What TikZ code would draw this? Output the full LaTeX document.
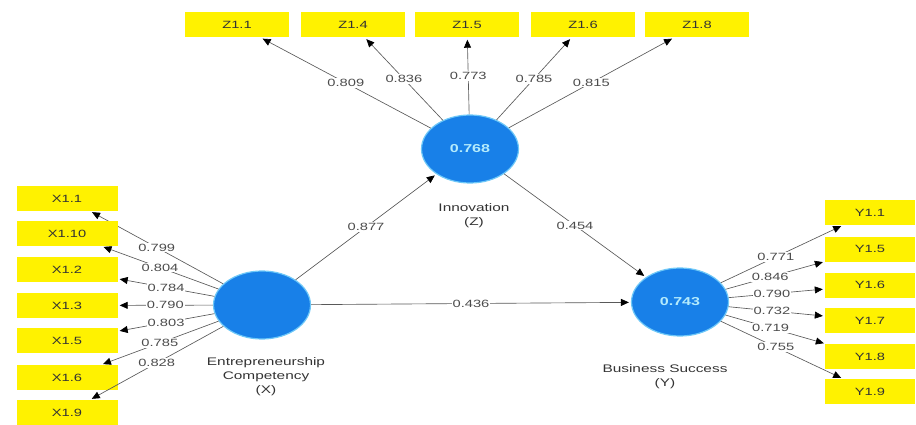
\documentclass[tikz,border=0pt]{standalone}
\usepackage{fontspec}
\setmainfont{Liberation Sans}[FakeStretch=1.4]
\usetikzlibrary{arrows.meta, shapes.geometric}
\definecolor{lvblue}{RGB}{24,128,232}
\definecolor{lvrim}{RGB}{110,200,248}
\definecolor{indyellow}{RGB}{255,242,0}
\definecolor{valcyan}{RGB}{180,235,252}

\begin{document}
\begin{tikzpicture}[x=1pt, y=-1pt,
  latent/.style={ellipse, fill=lvblue, draw=lvrim, line width=1.2pt, minimum width=97pt, minimum height=68pt, inner sep=0pt, text=valcyan, font=\fontsize{11.5}{11.5}\selectfont\bfseries},
  indic/.style={rectangle, fill=indyellow, minimum height=25pt, inner sep=0pt, text=black!80, font=\fontsize{10.5}{10.5}\selectfont},
  load/.style={draw=black!65, line width=0.65pt, -{Triangle[length=8pt,width=7pt,color=black]}, shorten >=2pt},
  coef/.style={fill=white, inner sep=1pt, text=black!70, font=\fontsize{10.5}{10.5}\selectfont},
  cname/.style={align=center, text=black!80, font=\fontsize{11}{14}\selectfont}]
  \useasboundingbox (0,0) rectangle (916,425);

  % latent variables
  \node[latent] (Z) at (470,149) {0.768};
  \node[latent] (X) at (262,305) {};
  \node[latent] (Y) at (680,302) {0.743};
  \node[cname] (Zname) at (474,216) {Innovation\\(Z)};
  \node[cname] (Xname) at (266,377) {Entrepreneurship\\Competency\\(X)};
  \node[cname] (Yname) at (665,377) {Business Success\\(Y)};

  % indicators of Z
  \foreach \lab/\xx/\c [count=\i] in {Z1.1/237/0.809, Z1.4/353/0.836, Z1.5/467/0.773, Z1.6/583/0.785, Z1.8/697/0.815} {
    \node[indic, minimum width=104pt] (z\i) at (\xx,25) {\lab};
    \draw[load] (Z) -- node[coef] {\c} (z\i);
  }

  % indicators of X
  \foreach \lab/\yy/\c [count=\i] in {X1.1/198.5/0.799, X1.10/233.5/0.804, X1.2/269.5/0.784, X1.3/305.5/0.790, X1.5/340.5/0.803, X1.6/377.5/0.785, X1.9/412.5/0.828} {
    \node[indic, minimum width=101pt] (x\i) at (67,\yy) {\lab};
    \draw[load] (X) -- node[coef] {\c} (x\i);
  }

  % indicators of Y
  \foreach \lab/\yy/\c [count=\i] in {Y1.1/212.5/0.771, Y1.5/249/0.846, Y1.6/285/0.790, Y1.7/320.5/0.732, Y1.8/356.5/0.719, Y1.9/391.5/0.755} {
    \node[indic, minimum width=90pt] (y\i) at (870,\yy) {\lab};
    \draw[load] (Y) -- node[coef, pos=0.45] {\c} (y\i);
  }

  % structural paths
  \draw[load] (X) -- node[coef] {0.877} (Z);
  \draw[load] (Z) -- node[coef] {0.454} (Y);
  \draw[load] (X) -- node[coef] {0.436} (Y);
\end{tikzpicture}
\end{document}
